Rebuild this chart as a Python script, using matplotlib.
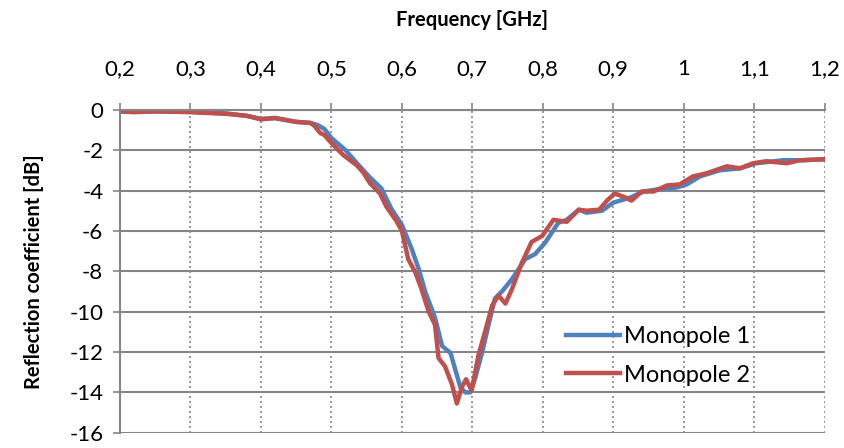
import matplotlib.pyplot as plt

# Monopole 1 (blue)
freq_1 = [0.20, 0.25, 0.30, 0.35, 0.38, 0.40, 0.42, 0.45, 0.47, 0.48, 0.49, 0.50,
          0.52, 0.54, 0.556, 0.571, 0.585, 0.60, 0.614, 0.624, 0.633, 0.647, 0.657,
          0.669, 0.676, 0.683, 0.69, 0.697, 0.704, 0.714, 0.723, 0.732, 0.742, 0.756,
          0.775, 0.789, 0.803, 0.822, 0.834, 0.851, 0.862, 0.884, 0.90, 0.924, 0.943,
          0.962, 0.99, 1.004, 1.023, 1.051, 1.08, 1.103, 1.141, 1.17, 1.20]
refl_1 = [-0.08, -0.08, -0.10, -0.18, -0.30, -0.45, -0.42, -0.60, -0.65, -0.75, -0.95, -1.40,
          -2.0, -2.8, -3.4, -3.9, -4.9, -5.7, -6.9, -7.9, -9.0, -10.3, -11.7,
          -12.05, -12.9, -13.75, -14.0, -14.0, -13.3, -12.0, -10.65, -9.35, -9.0, -8.4,
          -7.4, -7.15, -6.6, -5.6, -5.45, -4.95, -5.1, -5.0, -4.6, -4.35, -4.05,
          -3.95, -3.85, -3.7, -3.3, -3.0, -2.9, -2.65, -2.5, -2.5, -2.45]

# Monopole 2 (red)
freq_2 = [0.20, 0.22, 0.25, 0.30, 0.35, 0.38, 0.40, 0.42, 0.45, 0.47, 0.476, 0.484, 0.49, 0.50,
          0.517, 0.536, 0.545, 0.555, 0.569, 0.578, 0.592, 0.60, 0.609, 0.619, 0.628,
          0.638, 0.647, 0.652, 0.661, 0.671, 0.678, 0.685, 0.691, 0.699, 0.709, 0.718,
          0.728, 0.737, 0.747, 0.756, 0.77, 0.784, 0.799, 0.815, 0.834, 0.851, 0.862,
          0.88, 0.891, 0.902, 0.914, 0.926, 0.94, 0.957, 0.976, 0.994, 1.013, 1.032,
          1.061, 1.08, 1.098, 1.117, 1.146, 1.165, 1.20]
refl_2 = [-0.08, -0.12, -0.08, -0.12, -0.20, -0.30, -0.48, -0.40, -0.60, -0.65, -0.80, -1.15, -1.25, -1.65,
          -2.25, -2.75, -3.1, -3.65, -4.15, -4.8, -5.5, -6.0, -7.4, -8.05, -8.9,
          -10.0, -10.65, -12.3, -12.7, -13.6, -14.55, -13.75, -13.35, -13.9, -12.1, -11.0,
          -9.7, -9.2, -9.6, -8.9, -7.6, -6.55, -6.25, -5.45, -5.55, -4.95, -5.0,
          -4.95, -4.5, -4.15, -4.3, -4.5, -4.05, -4.05, -3.75, -3.7, -3.3, -3.15,
          -2.8, -2.9, -2.65, -2.55, -2.65, -2.5, -2.45]

x_ticks = [0.2, 0.3, 0.4, 0.5, 0.6, 0.7, 0.8, 0.9, 1.0, 1.1, 1.2]
x_labels = ['0,2', '0,3', '0,4', '0,5', '0,6', '0,7', '0,8', '0,9', '1', '1,1', '1,2']
y_ticks = [0, -2, -4, -6, -8, -10, -12, -14, -16]
y_labels = ['0', '-2', '-4', '-6', '-8', '-10', '-12', '-14', '-16']

plt.rcParams['font.family'] = ['Lato', 'DejaVu Sans']
grey = '#868686'

fig = plt.figure(figsize=(8.45, 4.48), dpi=100)
ax = fig.add_axes([0.142, 0.034, 0.834, 0.721])

ax.plot(freq_1, refl_1, color='#4F81BD', lw=3.2, solid_joinstyle='round', label='Monopole 1')
ax.plot(freq_2, refl_2, color='#C0504D', lw=3.2, solid_joinstyle='round', label='Monopole 2')

ax.set_xlim(0.2, 1.2)
ax.set_ylim(-16, 0)
ax.xaxis.tick_top()
ax.xaxis.set_label_position('top')
ax.set_xticks(x_ticks)
ax.set_xticklabels(x_labels)
ax.set_yticks(y_ticks)
ax.set_yticklabels(y_labels)
ax.tick_params(axis='both', labelsize=16, color=grey, length=5, width=1.2)
ax.tick_params(axis='x', pad=17)
ax.tick_params(axis='y', pad=7)

for y in y_ticks:
    ax.axhline(y, color=grey, lw=1.5, zorder=0)
for x in x_ticks[1:]:
    ax.axvline(x, color=grey, lw=1.2, ls=(0, (1.2, 1.8)), zorder=0)

for side in ['right', 'bottom']:
    ax.spines[side].set_visible(False)
for side in ['left', 'top']:
    ax.spines[side].set_color(grey)
    ax.spines[side].set_linewidth(1.5)

ax.set_xlabel('Frequency [GHz]', fontsize=14.5, fontweight='bold', labelpad=24)
ax.set_ylabel('Reflection coefficient [dB]', fontsize=14.5, fontweight='bold', labelpad=18)

ax.legend(loc='center left', bbox_to_anchor=(0.633, 0.238), frameon=False, fontsize=17,
          borderpad=0, borderaxespad=0, handlelength=2.3, handletextpad=0.15,
          labelspacing=0.75)

fig.savefig('out.png', dpi=100)
